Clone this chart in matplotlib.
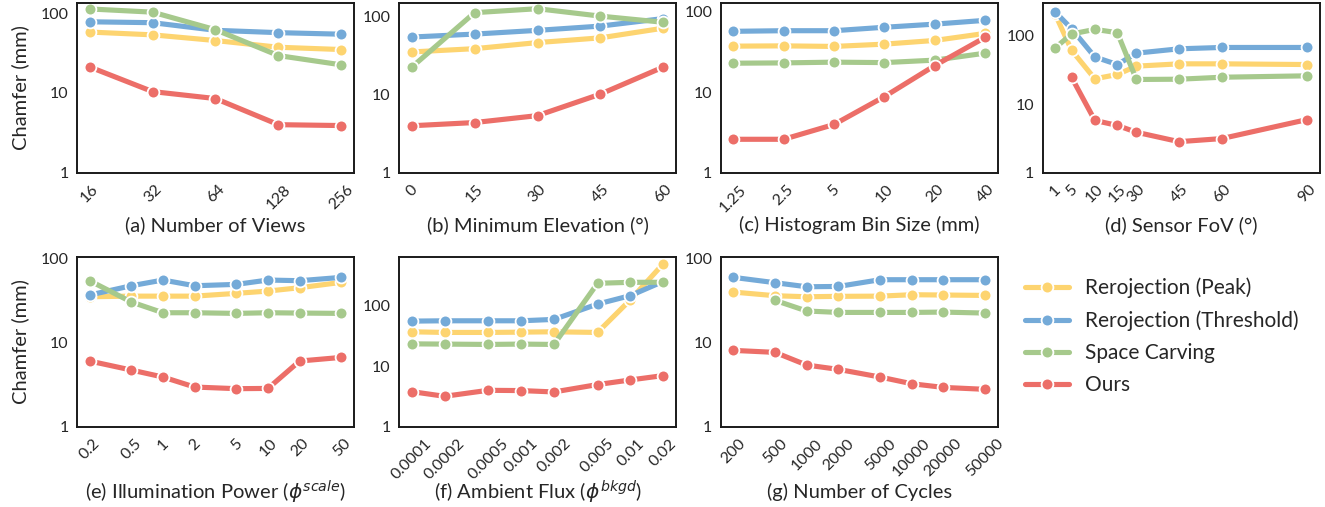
import numpy as np
import matplotlib
matplotlib.use("Agg")
import matplotlib.pyplot as plt
from matplotlib.ticker import FixedLocator, NullLocator

plt.rcParams['font.family'] = ['Lato', 'DejaVu Sans']
plt.rcParams['mathtext.fontset'] = 'dejavusans'

# ---------------- data ----------------
series_names = ["Rerojection (Peak)", "Rerojection (Threshold)", "Space Carving", "Ours"]
series_colors = ["#FDD470", "#74AAD8", "#A6C98C", "#EC6E68"]

# (a) Number of Views
views_x = [16, 32, 64, 128, 256]
views_peak = [58, 53.5, 45.4, 37.4, 35]
views_thresh = [78, 76, 61, 57, 54.5]
views_carve = [113, 103, 62, 29.4, 22.5]
views_ours = [21.2, 10.4, 8.5, 4.0, 3.9]

# (b) Minimum Elevation
elev_x = [0, 15, 30, 45, 60]
elev_peak = [35.4, 39, 46.7, 53.7, 71.5]
elev_thresh = [55, 60, 67, 76, 95]
elev_carve = [22.5, 113, 127, 102, 85]
elev_ours = [4.0, 4.4, 5.4, 10.2, 22.7]

# (c) Histogram Bin Size
bin_x = [1.25, 2.5, 5, 10, 20, 40]
bin_labels = ["1.25", "2.5", "5", "10", "20", "40"]
bin_peak = [37.3, 37.6, 37, 39.5, 43.9, 53.7]
bin_thresh = [57, 58, 58, 64, 70, 78]
bin_carve = [22.9, 23.1, 23.6, 23.3, 25, 30.5]
bin_ours = [2.6, 2.6, 3.97, 8.8, 21.4, 47.9]

# (d) Sensor FoV (positions on the axis as drawn, with their labels)
fov_x = [1.5, 7.2, 15.4, 23.3, 30, 45, 60, 90]
fov_labels = ["1", "5", "10", "15", "30", "45", "60", "90"]
fov_peak = [205, 61.7, 23.5, 27.2, 36, 38.9, 38.9, 38]
fov_thresh = [222, 127, 49, 38, 55.7, 64.5, 67.5, 67.5]
fov_carve = [66.7, 106, 124, 111, 23, 23.2, 24.8, 26]
fov_ours = [np.nan, 24.8, 5.8, 4.9, 3.9, 2.84, 3.15, 5.97]

# (e) Illumination Power
power_x = [0.2, 0.5, 1, 2, 5, 10, 20, 50]
power_labels = ["0.2", "0.5", "1", "2", "5", "10", "20", "50"]
power_peak = [35, 35.6, 35.6, 35.6, 38.4, 40.9, 44.8, 51.9]
power_thresh = [36.7, 47.3, 55.3, 47.3, 49.1, 55.3, 54.3, 59.5]
power_carve = [54.3, 30.3, 22.6, 22.6, 22.2, 22.6, 22.4, 22.2]
power_ours = [6.03, 4.71, 3.89, 2.96, 2.83, 2.85, 6.03, 6.66]

# (f) Ambient Flux
flux_x = [0.0001, 0.0002, 0.0005, 0.001, 0.002, 0.005, 0.01, 0.02]
flux_labels = ["0.0001", "0.0002", "0.0005", "0.001", "0.002", "0.005", "0.01", "0.02"]
flux_peak = [36.7, 35.8, 35.8, 36.2, 36.7, 35.8, 124, 488]
flux_thresh = [55, 55.7, 55.7, 55.7, 58.7, 105, 145, 249]
flux_carve = [23.2, 23, 22.7, 23, 22.7, 231, 240, 240]
flux_ours = [3.79, 3.17, 3.98, 3.94, 3.74, 4.95, 5.9, 6.97]

# (g) Number of Cycles
cycles_x = [200, 500, 1000, 2000, 5000, 10000, 20000, 50000]
cycles_labels = ["200", "500", "1000", "2000", "5000", "10000", "20000", "50000"]
cycles_peak = [39.8, 36, 35, 35.4, 35.6, 37, 36.7, 36.3]
cycles_thresh = [59.5, 51.4, 46, 46.4, 55.8, 55.8, 55.8, 55.8]
cycles_carve = [np.nan, 31.7, 23.7, 22.8, 22.8, 22.8, 23, 22.4]
cycles_ours = [8.07, 7.64, 5.4, 4.8, 3.89, 3.24, 2.93, 2.78]

y_ticks = [1, 10, 100]
y_tick_labels = ["1", "10", "100"]

panels = [
    dict(x=views_x, labels=[str(v) for v in views_x], xscale="log",
         ys=[views_peak, views_thresh, views_carve, views_ours], ytop=133,
         title="(a) Number of Views"),
    dict(x=elev_x, labels=[str(v) for v in elev_x], xscale="linear",
         ys=[elev_peak, elev_thresh, elev_carve, elev_ours], ytop=149,
         title="(b) Minimum Elevation (°)"),
    dict(x=bin_x, labels=bin_labels, xscale="log",
         ys=[bin_peak, bin_thresh, bin_carve, bin_ours], ytop=127,
         title="(c) Histogram Bin Size (mm)"),
    dict(x=fov_x, labels=fov_labels, xscale="linear",
         ys=[fov_peak, fov_thresh, fov_carve, fov_ours], ytop=298,
         title="(d) Sensor FoV (°)"),
    dict(x=power_x, labels=power_labels, xscale="log",
         ys=[power_peak, power_thresh, power_carve, power_ours], ytop=103,
         title=r"(e) Illumination Power ($\phi^{scale}$)"),
    dict(x=flux_x, labels=flux_labels, xscale="log",
         ys=[flux_peak, flux_thresh, flux_carve, flux_ours], ytop=620,
         title=r"(f) Ambient Flux ($\phi^{bkgd}$)"),
    dict(x=cycles_x, labels=cycles_labels, xscale="log",
         ys=[cycles_peak, cycles_thresh, cycles_carve, cycles_ours], ytop=103,
         title="(g) Number of Cycles"),
]

# ---------------- layout ----------------
W, H = 1325, 507
fig = plt.figure(figsize=(W / 100, H / 100), dpi=100)
lefts = [77, 399, 720.7, 1042.7]
ax_w = 277
ax_h = 169.4
tops = [3.3, 257.3]
label_y = [-0.31, -0.385]

handles = []
for i, p in enumerate(panels):
    row, col = divmod(i, 4)
    l = lefts[col] / W
    b = 1 - (tops[row] + ax_h) / H
    ax = fig.add_axes([l, b, ax_w / W, ax_h / H])
    for ys, name, c in zip(p["ys"], series_names, series_colors):
        h, = ax.plot(p["x"], ys, color=c, lw=3.7, marker="o", ms=8.5,
                     mec="white", mew=1.3, label=name, solid_capstyle="round")
        if i == 0:
            handles.append(h)
    ax.set_xscale(p["xscale"])
    ax.set_yscale("log")
    ax.set_ylim(1, p["ytop"])
    ax.yaxis.set_major_locator(FixedLocator(y_ticks))
    ax.yaxis.set_minor_locator(NullLocator())
    ax.set_yticklabels(y_tick_labels)
    ax.xaxis.set_major_locator(FixedLocator(p["x"]))
    ax.xaxis.set_minor_locator(NullLocator())
    ax.set_xticklabels(p["labels"], rotation=45, ha="center")
    ax.tick_params(axis="both", length=0, labelsize=11.5, colors="#262626")
    ax.tick_params(axis="x", pad=7)
    ax.tick_params(axis="y", pad=6)
    for s in ax.spines.values():
        s.set_color("#1a1a1a")
        s.set_linewidth(1.4)
    ax.set_xlabel(p["title"], fontsize=14.5, color="#262626", va="center")
    ax.xaxis.set_label_coords(0.5, label_y[row])
    if col == 0:
        ax.set_ylabel("Chamfer (mm)", fontsize=14.5, color="#262626", labelpad=8)

fig.legend(handles=handles, labels=series_names, loc="upper left",
           bbox_to_anchor=(1006 / W, 1 - 259 / H), frameon=False,
           fontsize=15, handlelength=2.1, handletextpad=0.8,
           labelspacing=0.58, labelcolor="#262626")

fig.savefig("out.png", dpi=100)
